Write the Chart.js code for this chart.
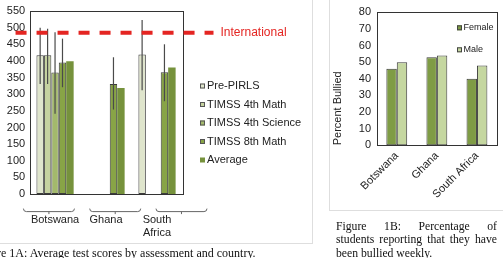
<!DOCTYPE html>
<html>
<head>
<meta charset="utf-8">
<script src="https://cdn.jsdelivr.net/npm/chart.js@4/dist/chart.umd.min.js"></script>
<style>
  html, body { margin: 0; padding: 0; background: #fff; overflow: hidden; }
  body { width: 503px; height: 258px; position: relative; }
  #frameA { position: absolute; left: -1px; top: -1px; width: 312px; height: 243px; border: 1px solid #dedede; }
  #frameB { position: absolute; left: 329px; top: -1px; width: 180px; height: 210px; border: 1px solid #dedede; }
  #boxA { position: absolute; left: 0; top: 0; width: 312px; height: 262px; }
  #boxB { position: absolute; left: 329px; top: 0; width: 174px; height: 210px; }
  .cap { position: absolute; font-family: "Liberation Serif", "Times New Roman", serif; font-size: 12px; color: #111; }
  #capA { left: -25px; top: 247px; line-height: 13px; white-space: nowrap; }
  #capB { left: 336px; top: 220px; width: 161px; line-height: 13.3px; font-size: 11.7px; }
  #capB div.j { text-align: justify; text-align-last: justify; }
</style>
</head>
<body>
<div id="frameA"></div>
<div id="frameB"></div>
<div id="boxA"><canvas id="chartA" width="312" height="262"></canvas></div>
<div id="boxB"><canvas id="chartB" width="174" height="210"></canvas></div>
<div class="cap" id="capA">Figure 1A: Average test scores by assessment and country.</div>
<div class="cap" id="capB">
  <div class="j">Figure 1B: Percentage of</div>
  <div class="j">students reporting that they have</div>
  <div>been bullied weekly.</div>
</div>
<script>
// ---- data: figure 1A (test scores)
const countries = ['Botswana', 'Ghana', ['South', 'Africa']];
const prePirls = [417, null, 419];
const timss4Math = [417, null, null];
const timss4Sci = [365, null, null];
const timss8Math = [395, 331, 366];
const avgScore = [399, 319, 380];
// error bar ranges (low / high)
const prePirlsLow = [331, null, 312];
const prePirlsHigh = [500, null, 523];
const timss4MathLow = [331, null, null];
const timss4MathHigh = [497, null, null];
const timss4SciLow = [241, null, null];
const timss4SciHigh = [486, null, null];
const timss8MathLow = [321, 254, 279];
const timss8MathHigh = [467, 411, 450];
const intlScore = 485;
const scoreTicks = { min: 0, max: 550, step: 50 };

// ---- data: figure 1B (bullied)
const bullyCountries = ['Botswana', 'Ghana', 'South Africa'];
const female = [46, 53, 40];
const male = [50, 54, 48];
const bullyTicks = { min: 0, max: 80, step: 10 };

const SANS = '"Liberation Sans", Arial, Helvetica, sans-serif';
const TXT = '#222';

Chart.defaults.font.family = SANS;
Chart.defaults.color = TXT;

// extra drawing for 1A: frame, error bars, international line, brackets, legend
const extrasA = {
    id: 'extrasA',
    afterDatasetsDraw(chart) {
        const c = chart.ctx, a = chart.chartArea, y = chart.scales.y;
        c.save();
        // error bars
        chart.data.datasets.forEach((ds, i) => {
            if (!ds.errLow) return;
            const meta = chart.getDatasetMeta(i);
            ds.errLow.forEach((lo, j) => {
                if (lo == null) return;
                const x = meta.data[j].x;
                c.strokeStyle = '#4a4a4a';
                c.lineWidth = 1.2;
                c.beginPath();
                c.moveTo(x, y.getPixelForValue(lo));
                c.lineTo(x, y.getPixelForValue(ds.errHigh[j]));
                c.stroke();
            });
        });
        // plot frame
        c.strokeStyle = '#333';
        c.lineWidth = 1;
        c.strokeRect(Math.round(a.left) + 0.5, Math.round(a.top) + 0.5, Math.round(a.right - a.left), Math.round(a.bottom - a.top));
        // international average
        const iy = y.getPixelForValue(intlScore);
        c.strokeStyle = '#e42522';
        c.lineWidth = 4;
        c.setLineDash([11, 10]);
        c.beginPath();
        c.moveTo(a.left - 14, iy);
        c.lineTo(a.right + 31, iy);
        c.stroke();
        c.setLineDash([]);
        c.fillStyle = '#e42522';
        c.font = '12px ' + SANS;
        c.textBaseline = 'middle';
        c.fillText('International', a.right + 38, iy);
        // category brackets
        const w = (a.right - a.left) / chart.data.labels.length;
        c.strokeStyle = '#666';
        c.lineWidth = 1;
        chart.data.labels.forEach((l, i) => {
            const x0 = a.left + (1.3 * i - 0.12) * w, x1 = x0 + w, by = a.bottom + 17.5;
            c.beginPath();
            c.moveTo(x0, by - 3);
            c.quadraticCurveTo(x0, by, x0 + 3, by);
            c.lineTo(x1 - 3, by);
            c.quadraticCurveTo(x1, by, x1, by - 3);
            c.moveTo((x0 + x1) / 2, by);
            c.lineTo((x0 + x1) / 2, by + 2.5);
            c.stroke();
        });
        // legend
        c.font = '11px ' + SANS;
        c.textBaseline = 'middle';
        chart.data.datasets.forEach((ds, i) => {
            const ly = a.top + 75 + i * 18.5;
            const lx = a.right + 17.5;
            c.fillStyle = ds.backgroundColor;
            c.fillRect(lx, ly - 2.5, 5, 5);
            if (ds.borderWidth) {
                c.strokeStyle = '#555';
                c.strokeRect(lx + 0.5, ly - 2, 4, 4);
            }
            c.fillStyle = TXT;
            c.fillText(ds.label, lx + 7, ly);
        });
        c.restore();
    }
};

function barSet(label, data, color, low, high) {
    return {
        label, data, backgroundColor: color,
        borderColor: low ? '#3c3c3c' : color, borderWidth: low ? 1 : 0, borderSkipped: false,
        errLow: low, errHigh: high,
        categoryPercentage: 0.73, barPercentage: 1
    };
}

new Chart(document.getElementById('chartA'), {
    type: 'bar',
    data: {
        labels: countries,
        datasets: [
            barSet('Pre-PIRLS', prePirls, '#dfe5cc', prePirlsLow, prePirlsHigh),
            barSet('TIMSS 4th Math', timss4Math, '#c5d2a0', timss4MathLow, timss4MathHigh),
            barSet('TIMSS 4th Science', timss4Sci, '#a3b96c', timss4SciLow, timss4SciHigh),
            barSet('TIMSS 8th Math', timss8Math, '#88a446', timss8MathLow, timss8MathHigh),
            barSet('Average', avgScore, '#76923c', null, null)
        ]
    },
    options: {
        responsive: false, animation: false, devicePixelRatio: 1,
        layout: { padding: { left: 2.4, top: 11, right: 129.5, bottom: 3.5 } },
        plugins: { legend: { display: false }, tooltip: { enabled: false } },
        scales: {
            x: {
                grid: { display: false, drawTicks: false }, border: { display: false },
                ticks: { padding: 19, autoSkip: false, maxRotation: 0, font: { size: 11 }, color: TXT }
            },
            y: {
                min: scoreTicks.min, max: scoreTicks.max,
                grid: { display: false, drawTicks: false }, border: { display: false },
                ticks: { stepSize: scoreTicks.step, autoSkip: false, padding: 4.4, font: { size: 11 }, color: TXT }
            }
        }
    },
    plugins: [extrasA]
});

// extra drawing for 1B: frame and inner legend
const extrasB = {
    id: 'extrasB',
    afterDatasetsDraw(chart) {
        const c = chart.ctx, a = chart.chartArea;
        c.save();
        c.strokeStyle = '#333';
        c.lineWidth = 1;
        c.strokeRect(Math.round(a.left) + 0.5, Math.round(a.top) + 0.5, Math.round(a.right - a.left), Math.round(a.bottom - a.top));
        c.font = '9px ' + SANS;
        c.textBaseline = 'middle';
        chart.data.datasets.forEach((ds, i) => {
            const lx = a.right - 40, ly = a.top + 15.5 + i * 22;
            c.fillStyle = ds.backgroundColor;
            c.fillRect(lx, ly - 2.5, 5, 5);
            c.strokeStyle = '#444';
            c.strokeRect(lx + 0.5, ly - 2, 4, 4);
            c.fillStyle = TXT;
            c.fillText(ds.label, lx + 6.5, ly);
        });
        c.restore();
    }
};

new Chart(document.getElementById('chartB'), {
    type: 'bar',
    data: {
        labels: bullyCountries,
        datasets: [
            { label: 'Female', data: female, backgroundColor: '#7f9c45', borderColor: '#3c3c3c', borderWidth: 1, borderSkipped: false, categoryPercentage: 0.52, barPercentage: 1 },
            { label: 'Male', data: male, backgroundColor: '#c5d7a0', borderColor: '#3c3c3c', borderWidth: 1, borderSkipped: false, categoryPercentage: 0.52, barPercentage: 1 }
        ]
    },
    options: {
        responsive: false, animation: false, devicePixelRatio: 1,
        layout: { padding: { left: 0, top: 0, right: 6, bottom: 5 } },
        plugins: { legend: { display: false }, tooltip: { enabled: false } },
        scales: {
            x: {
                grid: { display: false, drawTicks: false }, border: { display: false },
                ticks: { padding: 4, autoSkip: false, minRotation: 45, maxRotation: 45, font: { size: 11 }, color: TXT }
            },
            y: {
                min: bullyTicks.min, max: bullyTicks.max,
                grid: { display: false, drawTicks: false }, border: { display: false },
                title: { display: true, text: 'Percent Bullied', align: 'start', font: { size: 11 }, color: TXT, padding: { top: 2, bottom: 8.9 } },
                ticks: { stepSize: bullyTicks.step, autoSkip: false, padding: 5.7, font: { size: 11 }, color: TXT }
            }
        }
    },
    plugins: [extrasB]
});
</script>
</body>
</html>
